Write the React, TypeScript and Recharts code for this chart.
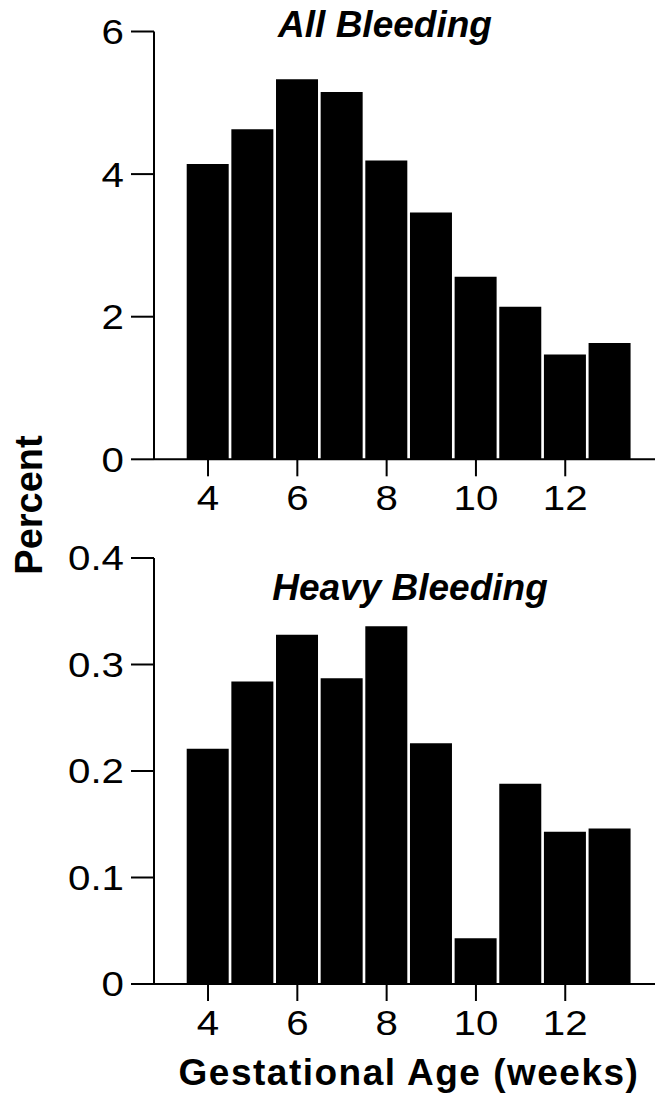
import React from "react";
import { BarChart, Bar, XAxis, YAxis } from "recharts";

// gestational week of each bar
const weeks = [4, 5, 6, 7, 8, 9, 10, 11, 12, 13];
// percent reporting any bleeding
const allBleeding = [4.14, 4.63, 5.33, 5.15, 4.19, 3.46, 2.56, 2.14, 1.47, 1.63];
// percent reporting heavy bleeding
const heavyBleeding = [0.221, 0.284, 0.328, 0.287, 0.336, 0.226, 0.043, 0.188, 0.143, 0.146];

const weekTicks = [4, 6, 8, 10, 12];
const allTicks = [0, 2, 4, 6];
const heavyTicks = [0, 0.1, 0.2, 0.3, 0.4];

const FONT = "'Liberation Sans', Arial, sans-serif";

const allData = weeks.map((w, i) => ({ week: w, value: allBleeding[i] }));
const heavyData = weeks.map((w, i) => ({ week: w, value: heavyBleeding[i] }));

const lineStyle = { stroke: "#000", strokeWidth: 2 };

// the original's tick digits are a little wider than Arial, so stretch them sideways
function WideTick(props: any) {
    const { x, y, payload, textAnchor, dy } = props;
    return (
        <text
            x={x}
            y={y}
            dy={dy}
            textAnchor={textAnchor}
            fill="#000"
            fontSize={35}
            fontFamily={FONT}
            transform={`translate(${x} 0) scale(1.15 1) translate(${-x} 0)`}
        >
            {String(payload.value)}
        </text>
    );
}

function Panel({
    data,
    ticks,
    marginTop,
    marginBottom,
}: {
    data: { week: number; value: number }[];
    ticks: number[];
    marginTop: number;
    marginBottom: number;
}) {
    return (
        <BarChart
            width={655}
            height={540}
            data={data}
            margin={{ top: marginTop, right: 0, left: 0, bottom: marginBottom }}
        >
            <Bar dataKey="value" fill="#000" barSize={42} isAnimationActive={false} />
            <XAxis
                dataKey="week"
                type="number"
                domain={[2.79, 14.01]}
                ticks={weekTicks}
                allowDataOverflow
                height={60}
                tickSize={17}
                tickMargin={9}
                tick={<WideTick dy="0.71em" />}
                axisLine={lineStyle}
                tickLine={lineStyle}
                interval={0}
            />
            <YAxis
                type="number"
                domain={[ticks[0], ticks[ticks.length - 1]]}
                ticks={ticks}
                width={154}
                tickSize={23}
                tickMargin={7}
                tick={<WideTick dy="0.355em" />}
                axisLine={lineStyle}
                tickLine={lineStyle}
                interval={0}
            />
        </BarChart>
    );
}

export default function App() {
    return (
        <div style={{ position: "absolute", left: 0, top: 0, width: 655, height: 1095, background: "#fff" }}>
            <div style={{ position: "absolute", left: 0, top: 0 }}>
                <Panel data={allData} ticks={allTicks} marginTop={31.5} marginBottom={20.7} />
            </div>
            <div style={{ position: "absolute", left: 0, top: 520 }}>
                <Panel data={heavyData} ticks={heavyTicks} marginTop={38} marginBottom={16} />
            </div>
            <svg
                width={655}
                height={1095}
                style={{ position: "absolute", left: 0, top: 0, pointerEvents: "none" }}
            >
                <text x={385} y={37} textAnchor="middle" fontFamily={FONT} fontSize={37} fontWeight="bold" fontStyle="italic">
                    All Bleeding
                </text>
                <text x={410} y={600} textAnchor="middle" fontFamily={FONT} fontSize={37} fontWeight="bold" fontStyle="italic">
                    Heavy Bleeding
                </text>
                <text
                    x={41.5}
                    y={505}
                    transform="rotate(-90 41.5 505)"
                    textAnchor="middle"
                    fontFamily={FONT}
                    fontSize={38}
                    fontWeight="bold"
                >
                    Percent
                </text>
                <text x={409} y={1085} textAnchor="middle" fontFamily={FONT} fontSize={37} fontWeight="bold" letterSpacing={1.5}>
                    Gestational Age (weeks)
                </text>
            </svg>
        </div>
    );
}
